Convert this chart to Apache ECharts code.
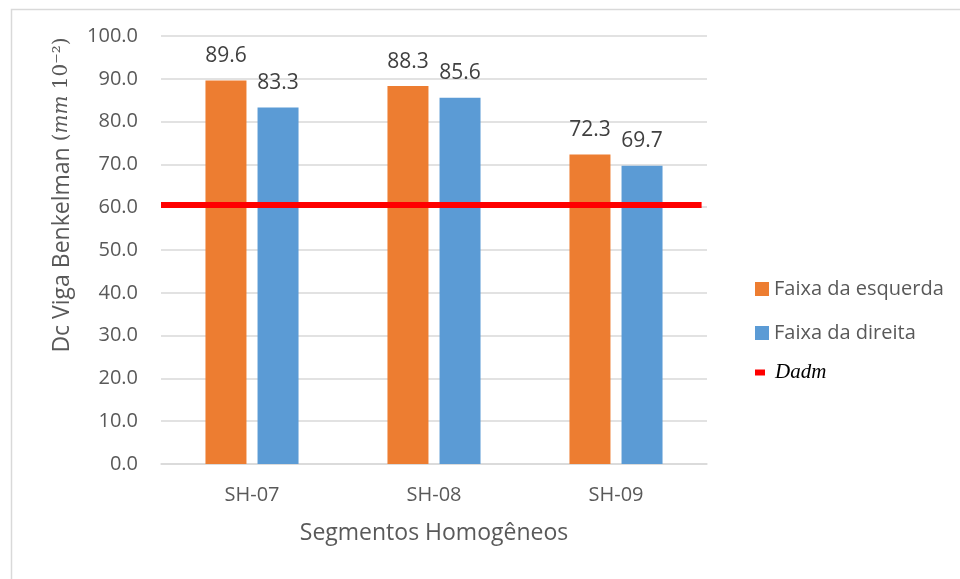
<!DOCTYPE html>
<html>
<head>
<meta charset="utf-8">
<script src="https://cdn.jsdelivr.net/npm/echarts@6/dist/echarts.min.js"></script>
<style>html,body{margin:0;padding:0;background:#fff}#c{width:960px;height:579px}</style>
</head>
<body>
<div id="c"></div>
<script>
const categories = ['SH-07', 'SH-08', 'SH-09'];
const faixaEsquerda = [89.6, 88.3, 72.3];
const faixaDireita = [83.3, 85.6, 69.7];
const dadmValue = 60.5;
const dadmSpan = [0, 1];
const yTicks = { min: 0, max: 100, interval: 10 };

const FONT = 'Open Sans';
const TXT = '#595959';

const chart = echarts.init(document.getElementById('c'), null, { renderer: 'canvas' });
chart.setOption({
  backgroundColor: '#ffffff',
  animation: false,
  textStyle: { fontFamily: FONT, color: TXT },
  grid: { left: 161, right: 253, top: 36, bottom: 115, containLabel: false },
  legend: [
    {
      orient: 'vertical', left: 750, top: 274,
      itemWidth: 14, itemHeight: 14, itemGap: 24,
      icon: 'rect',
      textStyle: { fontFamily: FONT, fontSize: 20, color: TXT },
      data: ['Faixa da esquerda', 'Faixa da direita']
    },
    {
      orient: 'vertical', left: 750, top: 357,
      itemWidth: 10, itemHeight: 6,
      icon: 'rect',
      textStyle: { fontFamily: 'Liberation Serif', fontStyle: 'italic', fontSize: 21, color: '#000', padding: [0, 0, 0, 5] },
      data: [{ name: 'Dadm', icon: 'rect' }]
    }
  ],
  xAxis: [
    {
      type: 'category', data: categories,
      axisLine: { lineStyle: { color: '#d9d9d9', width: 1.5 } },
      axisTick: { show: false },
      axisLabel: { fontFamily: FONT, fontSize: 20, color: TXT, margin: 21 },
      name: 'Segmentos Homogêneos', nameLocation: 'middle', nameGap: 58,
      nameTextStyle: { fontFamily: FONT, fontSize: 23, color: TXT }
    },
    { type: 'value', min: 0, max: 1.01, show: false }
  ],
  yAxis: {
    type: 'value', min: yTicks.min, max: yTicks.max, interval: yTicks.interval,
    axisLine: { show: false }, axisTick: { show: false },
    splitLine: { lineStyle: { color: '#d9d9d9', width: 1.5 } },
    axisLabel: { fontFamily: FONT, fontSize: 20, color: TXT, margin: 23, formatter: v => v.toFixed(1) }
  },
  graphic: [
    {
      type: 'rect', left: 9, top: 7, silent: true,
      shape: { x: 0, y: 0, width: 1000, height: 600 },
      style: { fill: 'none', stroke: '#d9d9d9', lineWidth: 1.5 }
    },
    {
      type: 'text', x: 62, y: 195, rotation: Math.PI / 2, silent: true,
      style: {
        text: '{a|Dc Viga Benkelman }{b|(}{i|mm}{b| 10⁻²)}',
        align: 'center', verticalAlign: 'middle',
        rich: {
          a: { fontFamily: FONT, fontSize: 23, fill: TXT },
          b: { fontFamily: 'DejaVu Serif', fontSize: 20, fill: TXT },
          i: { fontFamily: 'DejaVu Serif', fontStyle: 'italic', fontSize: 20, fill: TXT }
        }
      }
    }
  ],
  series: [
    {
      name: 'Faixa da esquerda', type: 'bar', data: faixaEsquerda,
      barWidth: 41, barGap: '27%',
      itemStyle: { color: '#ED7D31' },
      label: { show: true, position: 'top', distance: 14, fontFamily: FONT, fontSize: 21, color: '#404040', formatter: p => p.value.toFixed(1) }
    },
    {
      name: 'Faixa da direita', type: 'bar', data: faixaDireita,
      barWidth: 41, barGap: '27%',
      itemStyle: { color: '#5B9BD5' },
      label: { show: true, position: 'top', distance: 14, fontFamily: FONT, fontSize: 21, color: '#404040', formatter: p => p.value.toFixed(1) }
    },
    {
      name: 'Dadm', type: 'line', xAxisIndex: 1, z: 5,
      data: dadmSpan.map(x => [x, dadmValue]),
      symbol: 'none',
      lineStyle: { color: '#FF0000', width: 6 },
      itemStyle: { color: '#FF0000' }
    }
  ]
});
</script>
</body>
</html>
